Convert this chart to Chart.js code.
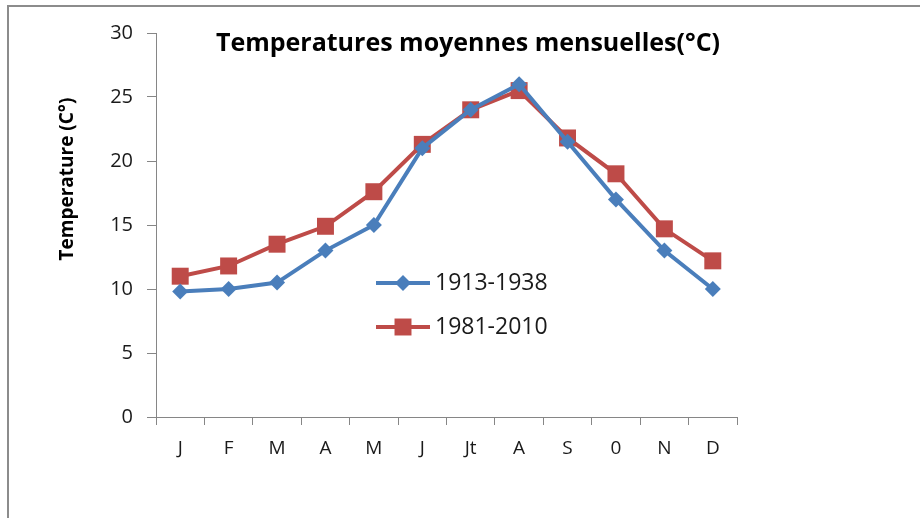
<!DOCTYPE html>
<html><head><meta charset="utf-8">
<script src="https://cdn.jsdelivr.net/npm/chart.js@4.4.1/dist/chart.umd.min.js"></script>
<style>html,body{margin:0;padding:0;background:#fff}#wrap{width:920px;height:518px;position:relative}</style>
</head><body><div id="wrap"><canvas id="c" width="920" height="518"></canvas></div>
<script>
const TITLE = 'Temperatures moyennes mensuelles(°C)';
const Y_TITLE = 'Temperature (C°)';
const MONTHS = ['J','F','M','A','M','J','Jt','A','S','0','N','D'];
const SERIES_LABELS = ['1913-1938','1981-2010'];
const T_1913_1938 = [9.8, 10, 10.5, 13, 15, 21, 24, 26, 21.5, 17, 13, 10];
const T_1981_2010 = [11, 11.8, 13.5, 14.9, 17.6, 21.3, 24, 25.5, 21.8, 19, 14.7, 12.2];
const Y_MIN = 0, Y_MAX = 30, Y_STEP = 5;

const BLUE = '#4a7ebb', RED = '#be4b48', AXIS = '#868686', TXT = '#1a1a1a';
const FONT = '"Open Sans", Lato, sans-serif';

const framePlugin = {
  id: 'frame',
  beforeDraw(chart) {
    const ctx = chart.ctx;
    ctx.save();
    ctx.fillStyle = '#fff';
    ctx.fillRect(0, 0, chart.width, chart.height);
    ctx.strokeStyle = '#8c8c8c';
    ctx.lineWidth = 2;
    ctx.beginPath();
    ctx.moveTo(8, chart.height);
    ctx.lineTo(8, 6);
    ctx.lineTo(chart.width, 6);
    ctx.stroke();
    ctx.restore();
  }
};

const titlePlugin = {
  id: 'inTitle',
  afterDraw(chart) {
    const ctx = chart.ctx;
    ctx.save();
    ctx.font = 'bold 25px ' + FONT;
    ctx.fillStyle = '#000';
    ctx.textAlign = 'center';
    ctx.textBaseline = 'middle';
    ctx.fillText(TITLE, 468, 44);
    ctx.translate(68, 179);
    ctx.rotate(-Math.PI / 2);
    ctx.font = 'bold 19px ' + FONT;
    ctx.fillText(Y_TITLE, 0, 0);
    ctx.restore();
  }
};

const legendPlugin = {
  id: 'inLegend',
  afterDatasetsDraw(chart) {
    const ctx = chart.ctx;
    ctx.save();
    chart.data.datasets.forEach((ds, i) => {
      const y = 283 + i * 44;
      ctx.strokeStyle = ds.borderColor;
      ctx.lineWidth = ds.borderWidth;
      ctx.beginPath();
      ctx.moveTo(376, y);
      ctx.lineTo(430, y);
      ctx.stroke();
      ctx.fillStyle = ds.pointBackgroundColor;
      ctx.strokeStyle = ds.pointBorderColor;
      Chart.helpers.drawPoint(ctx, {pointStyle: ds.pointStyle, radius: ds.pointRadius, rotation: 0, borderWidth: 0}, 403, y);
      ctx.fillStyle = TXT;
      ctx.font = '23px ' + FONT;
      ctx.textAlign = 'left';
      ctx.textBaseline = 'middle';
      ctx.fillText(ds.label, 435, y);
    });
    ctx.restore();
  }
};

new Chart(document.getElementById('c'), {
  type: 'line',
  data: {
    labels: MONTHS,
    datasets: [
      { label: SERIES_LABELS[0], data: T_1913_1938, borderColor: BLUE, backgroundColor: BLUE,
        pointBackgroundColor: BLUE, pointBorderColor: BLUE, borderWidth: 4, pointStyle: 'rectRot',
        pointRadius: 8, pointBorderWidth: 0, tension: 0 },
      { label: SERIES_LABELS[1], data: T_1981_2010, borderColor: RED, backgroundColor: RED,
        pointBackgroundColor: RED, pointBorderColor: RED, borderWidth: 4, pointStyle: 'rect',
        pointRadius: 12, pointBorderWidth: 0, tension: 0 }
    ]
  },
  options: {
    responsive: false,
    animation: false,
    layout: { padding: { left: 0, right: 183, top: 33, bottom: 0 } },
    plugins: { legend: { display: false }, title: { display: false }, tooltip: { enabled: false } },
    scales: {
      x: {
        offset: true,
        grid: { offset: true, drawOnChartArea: false, drawTicks: true, tickLength: 8, color: AXIS, lineWidth: 1 },
        border: { display: true, color: AXIS, width: 1 },
        ticks: { color: TXT, font: { family: FONT, size: 19 }, padding: 12, maxRotation: 0, autoSkip: false },
        afterFit(s) { s.height = 101; }
      },
      y: {
        min: Y_MIN, max: Y_MAX,
        grid: { drawOnChartArea: false, drawTicks: true, tickLength: 9, color: AXIS, lineWidth: 1 },
        border: { display: true, color: AXIS, width: 1 },
        ticks: { stepSize: Y_STEP, color: TXT, font: { family: FONT, size: 20 }, padding: 14 },
        afterFit(s) { s.width = 156; }
      }
    }
  },
  plugins: [framePlugin, titlePlugin, legendPlugin]
});
</script>
</body></html>
